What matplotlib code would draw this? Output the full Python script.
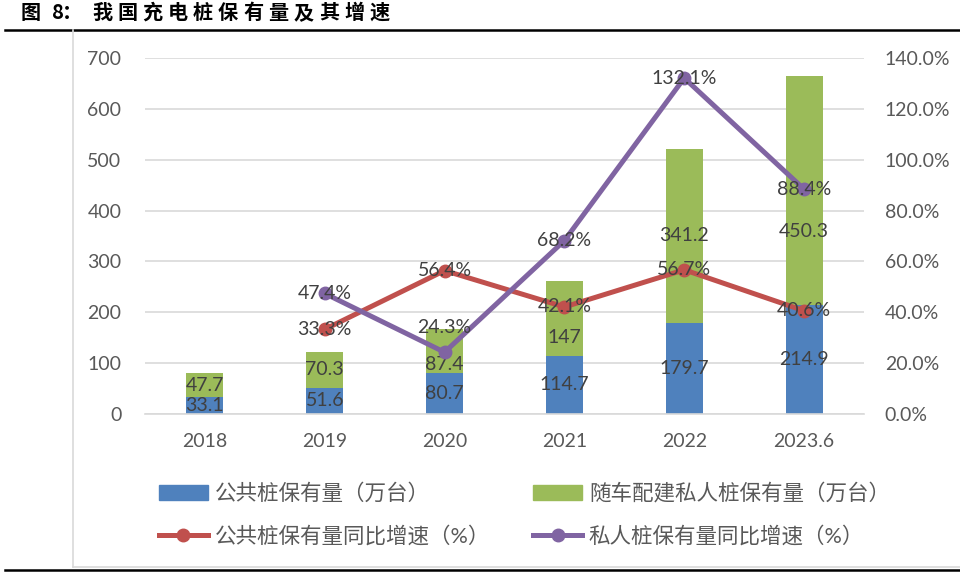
import matplotlib.pyplot as plt
import numpy as np
from matplotlib.lines import Line2D
from matplotlib.patches import Patch

plt.rcParams['font.family'] = ['Lato', 'Noto Sans CJK SC', 'DejaVu Sans']

# Data
years = ["2018", "2019", "2020", "2021", "2022", "2023.6"]
public_piles = [33.1, 51.6, 80.7, 114.7, 179.7, 214.9]
private_piles = [47.7, 70.3, 87.4, 147, 341.2, 450.3]
public_growth = [None, 33.3, 56.4, 42.1, 56.7, 40.6]
private_growth = [None, 47.4, 24.3, 68.2, 132.1, 88.4]

# label nudges (points) where the source moved labels off centre
private_label_dy = [0, 0, -10, -14, 0, -30]
private_growth_dy = [0, 0, 18, 0, 0, 0]

blue = "#4F81BD"
green = "#9BBB59"
red = "#C0504D"
purple = "#8064A2"
tick_col = "#595959"
lab_col = "#404040"

fig = plt.figure(figsize=(9.6, 5.78), dpi=100)
ax = fig.add_axes([0.151, 0.2837, 0.749, 0.616])
x = np.arange(len(years))

# stacked bars
w = 0.31
ax.bar(x, public_piles, w, color=blue, zorder=2)
ax.bar(x, private_piles, w, bottom=public_piles, color=green, zorder=2)
for i in range(len(years)):
    ax.annotate(f"{public_piles[i]:g}", (x[i], public_piles[i] / 2), ha="center", va="center",
                fontsize=14, color=lab_col, zorder=5)
    ax.annotate(f"{private_piles[i]:g}", (x[i], public_piles[i] + private_piles[i] / 2),
                xytext=(0, private_label_dy[i]), textcoords="offset points",
                ha="center", va="center", fontsize=14, color=lab_col, zorder=5)

ax.set_ylim(0, 700)
ax.set_xlim(-0.5, len(years) - 0.5)
ax.set_yticks(range(0, 701, 100))
ax.set_xticks(x)
ax.set_xticklabels(years)
ax.yaxis.grid(True, color="#D9D9D9", linewidth=1.2, zorder=0)
ax.set_axisbelow(True)
for s in ["top", "right", "left"]:
    ax.spines[s].set_visible(False)
ax.spines["bottom"].set_color("#D9D9D9")
ax.spines["bottom"].set_linewidth(1.2)
ax.tick_params(axis="both", length=0, labelsize=14, colors=tick_col)
ax.tick_params(axis="y", pad=17)
ax.tick_params(axis="x", pad=14)

# growth lines on right axis
ax2 = ax.twinx()
xs = x[1:]
ax2.plot(xs, public_growth[1:], color=red, linewidth=3.6, marker="o", markersize=9, zorder=3)
ax2.plot(xs, private_growth[1:], color=purple, linewidth=3.6, marker="o", markersize=9, zorder=3)
for i in range(1, len(years)):
    ax2.annotate(f"{public_growth[i]:.1f}%", (x[i], public_growth[i]), ha="center", va="center",
                 fontsize=14, color=lab_col, zorder=5)
    ax2.annotate(f"{private_growth[i]:.1f}%", (x[i], private_growth[i]),
                 xytext=(0, private_growth_dy[i]), textcoords="offset points",
                 ha="center", va="center", fontsize=14, color=lab_col, zorder=5)
ax2.set_ylim(0, 140)
ax2.set_yticks(range(0, 141, 20))
ax2.set_yticklabels([f"{t:.1f}%" for t in range(0, 141, 20)])
for s in ["top", "right", "left", "bottom"]:
    ax2.spines[s].set_visible(False)
ax2.tick_params(axis="y", length=0, labelsize=14, colors=tick_col, pad=15)

# legend
handles = [
    Patch(color=blue, label="公共桩保有量（万台）"),
    Line2D([], [], color=red, linewidth=3.6, marker="o", markersize=9, label="公共桩保有量同比增速（%）"),
    Patch(color=green, label="随车配建私人桩保有量（万台）"),
    Line2D([], [], color=purple, linewidth=3.6, marker="o", markersize=9, label="私人桩保有量同比增速（%）"),
]
fig.legend(handles=handles, ncol=2, loc="upper left", bbox_to_anchor=(0.145, 0.198),
           frameon=False, fontsize=15.5, labelcolor=tick_col, handlelength=2.3,
           columnspacing=2.0, labelspacing=1.0, handletextpad=0.3)

# title, letter-spaced like the source
title_chars = ["图", "8", "：", "我", "国", "充", "电", "桩", "保", "有", "量", "及", "其", "增", "速"]
title_x = [21, 52, 62] + [92 + 25.2 * k for k in range(12)]
for ch, px in zip(title_chars, title_x):
    fig.text(px / 960, 0.997, ch, fontsize=14.5, fontweight="bold", ha="left", va="top",
             color="black", family=["Noto Sans CJK SC", "DejaVu Sans"])

# frame lines
fig.add_artist(Line2D([0.005, 1.0], [0.948, 0.948], color="black", linewidth=1.8))
fig.add_artist(Line2D([0.076, 0.076], [0.948, 0.019], color="#D9D9D9", linewidth=1.2))
fig.add_artist(Line2D([0.076, 1.0], [0.019, 0.019], color="#D9D9D9", linewidth=1.2))
fig.add_artist(Line2D([0.005, 1.0], [0.013, 0.013], color="black", linewidth=1.8))

fig.savefig("out.png", dpi=100)
